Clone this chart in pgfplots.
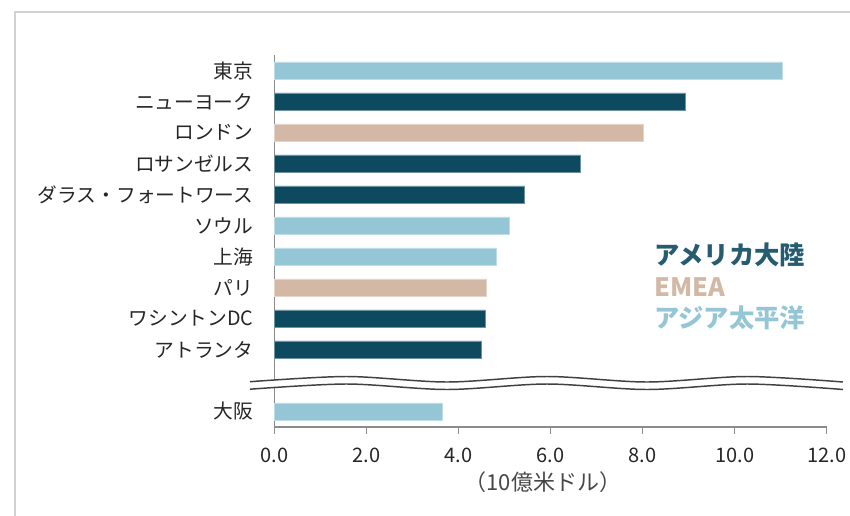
\documentclass[border=0pt]{standalone}
\usepackage{pgfplots}
\pgfplotsset{compat=1.18}
\usepackage{fontspec}
\setmainfont{Noto Sans CJK JP}
\definecolor{amer}{HTML}{0D4A5F}
\definecolor{emea}{HTML}{D2B8A5}
\definecolor{apac}{HTML}{95C6D6}
\definecolor{axgray}{HTML}{8C8C8C}
\definecolor{txt}{HTML}{262626}
\begin{document}
\begin{tikzpicture}[x=0.75pt,y=-0.75pt]
\useasboundingbox (0,0) rectangle (850,515);
\draw[line width=1.5pt, color=black!18] (15,516) -- (15,12) -- (851,12);
\coordinate (O) at (274.7,427);
\begin{axis}[
  at={(O)}, anchor=south west,
  scale only axis, width=414pt, height=279pt,
  xmin=0, xmax=12, ymin=-0.5, ymax=11.5, y dir=reverse,
  axis x line*=bottom, axis y line*=left,
  axis line style={color=axgray, line width=0.8pt},
  every outer x axis line/.append style={-}, every outer y axis line/.append style={-},
  tick align=outside, major tick length=5.25pt, minor tick length=5.25pt,
  tick style={color=axgray, line width=0.8pt},
  xtick={0,2,...,12},
  xticklabel={\pgfmathprintnumber[fixed,fixed zerofill,precision=1]{\tick}},
  /pgf/number format/assume math mode=true,
  xticklabel style={font=\fontsize{15pt}{17pt}\selectfont, text=txt, yshift=-7pt},
  ytick={0,1,2,3,4,5,6,7,8,9,11},
  yticklabels={東京,ニューヨーク,ロンドン,ロサンゼルス,ダラス・フォートワース,ソウル,上海,パリ,ワシントンDC,アトランタ,大阪},
  ytick style={draw=none},
  minor ytick={-0.5,0.5,...,11.5},
  yticklabel style={font=\fontsize{14.8pt}{16pt}\selectfont, text=txt, anchor=east, inner sep=0pt, xshift=-10.5pt},
  xlabel={（10億米ドル）},
  xlabel style={font=\fontsize{16.5pt}{18pt}\selectfont, text=txt!85, at={(rel axis cs:0.486,0)}, anchor=center, yshift=-41pt},
  bar width=0.55, clip=false,
]
\addplot[xbar, bar shift=0pt, fill=amer, draw=amer!60!white, line width=0.4pt] coordinates {(8.93,1) (6.64,3) (5.43,4) (4.57,8) (4.50,9)};
\addplot[xbar, bar shift=0pt, fill=emea, draw=emea!60!white, line width=0.4pt] coordinates {(8.02,2) (4.59,7)};
\addplot[xbar, bar shift=0pt, fill=apac, draw=apac!60!white, line width=0.4pt] coordinates {(11.03,0) (5.09,5) (4.81,6) (3.64,11)};
\end{axis}
% axis break
\fill[white] plot[smooth] coordinates {(250,381.7) (347,376.5) (447,382) (547,376.5) (647,382) (747,376.5) (843,382)}
  -- plot[smooth] coordinates {(843,389.5) (747,384) (647,389.5) (547,384) (447,389.5) (347,384) (250,389.2)} -- cycle;
\draw[line width=1.1pt, color=black!75] plot[smooth] coordinates {(250,381.7) (347,376.5) (447,382) (547,376.5) (647,382) (747,376.5) (843,382)};
\draw[line width=1.1pt, color=black!75] plot[smooth] coordinates {(250,389.2) (347,384) (447,389.5) (547,384) (647,389.5) (747,384) (843,389.5)};
% legend as coloured text
\node[anchor=west, inner sep=0pt, text=amer!90!white, font=\fontsize{19pt}{21pt}\selectfont\bfseries] at (654,255) {アメリカ大陸};
\node[anchor=west, inner sep=0pt, text=emea, font=\fontsize{19pt}{21pt}\selectfont\bfseries] at (654,287) {EMEA};
\node[anchor=west, inner sep=0pt, text=apac, font=\fontsize{19pt}{21pt}\selectfont\bfseries] at (654,318) {アジア太平洋};
\end{tikzpicture}
\end{document}
